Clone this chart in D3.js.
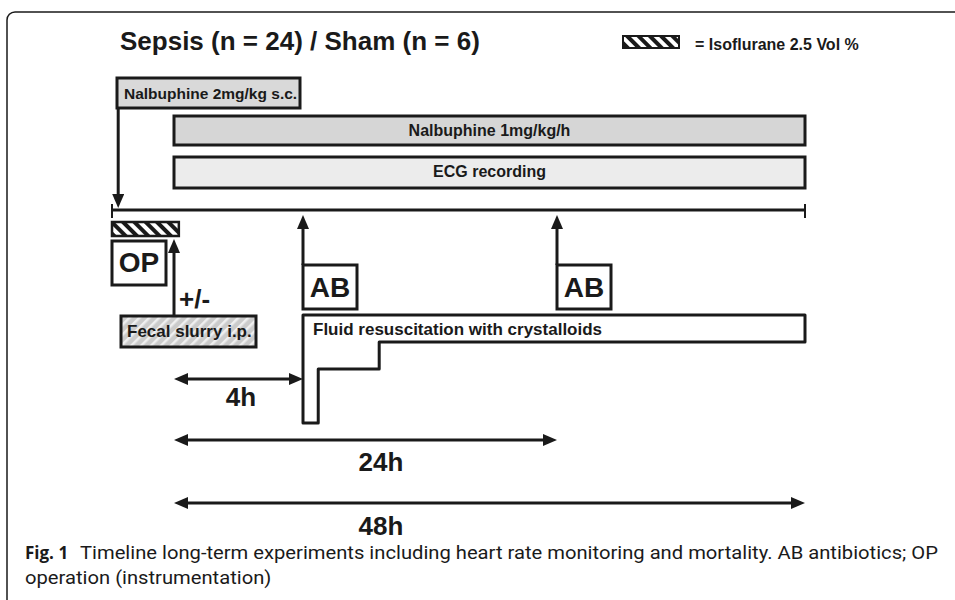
<!DOCTYPE html>
<html>
<head>
<meta charset="utf-8">
<script src="https://cdn.jsdelivr.net/npm/d3@7"></script>
<style>
  body { margin: 0; background: #fff; }
  text { font-family: "Liberation Sans", Arial, sans-serif; fill: #1a1a1a; }
</style>
</head>
<body>
<svg id="chart" width="955" height="600"></svg>
<script>
// ---- data (hours relative to fecal slurry injection) ----
var title = "Sepsis (n = 24) / Sham (n = 6)";
var legendLabel = "= Isoflurane 2.5 Vol %";

var bolusLabel = "Nalbuphine 2mg/kg s.c.";
var bolusHour = -1.8;

var infusionLabels = ["Nalbuphine 1mg/kg/h", "ECG recording"];
var infusionStart = [0, 0];
var infusionEnd = [48, 48];

var isofluraneHours = [-2, 0.15];
var antibioticHours = [4, 24];

var fluidLabel = "Fluid resuscitation with crystalloids";
var fluidHours = [4, 5.2, 10, 48];
var fluidRates = [4, 2, 1, 1];

var durationHours = [4, 24, 48];
var durationLabels = ["4h", "24h", "48h"];

var captionBold = "Fig. 1";
var captionLines = ["Timeline long-term experiments including heart rate monitoring and mortality. AB antibiotics; OP",
                    "operation (instrumentation)"];

// ---- layout ----
var ink = "#1a1a1a";
var L = {
    axisY: 210,
    bolusBox: [78, 108], bolusX: [117, 300],
    infusionY: [116, 157], infusionH: [29, 31],
    infusionFill: ["#d6d6d6", "#ececec"],
    isoY: 222, isoH: 14,
    opBox: [241, 285], opRight: 166,
    abBox: [265, 309], abW: 54,
    fecal: [316, 347], fecalX: [121, 256],
    fluidTop: 315,
    durationY: [379, 440, 503],
    durationLabelX: [241, 381, 381],
    durationLabelY: [406, 471, 535]
};

var svg = d3.select("#chart");

// piecewise time axis (schematic, not linear in time)
var x = d3.scaleLinear()
    .domain([-2, 0, 4, 24, 48])
    .range([112, 174, 303, 557, 805]);

var rateY = d3.scaleLinear()
    .domain([0, 4])
    .range([L.fluidTop, 423]);

var defs = svg.append("defs");

defs.append("marker")
    .attr("id", "head")
    .attr("viewBox", "0 0 14 12")
    .attr("refX", 8)
    .attr("refY", 6)
    .attr("markerWidth", 14)
    .attr("markerHeight", 12)
    .attr("markerUnits", "userSpaceOnUse")
    .attr("orient", "auto-start-reverse")
    .append("path")
    .attr("d", "M0,0L14,6L0,12Z")
    .attr("fill", ink);

var iso = defs.append("pattern")
    .attr("id", "iso")
    .attr("width", 8)
    .attr("height", 8)
    .attr("patternUnits", "userSpaceOnUse")
    .attr("patternTransform", "rotate(-45)");
iso.append("rect").attr("width", 8).attr("height", 8).attr("fill", "#fff");
iso.append("rect").attr("width", 4).attr("height", 8).attr("fill", ink);

var fecal = defs.append("pattern")
    .attr("id", "fecal")
    .attr("width", 7)
    .attr("height", 7)
    .attr("patternUnits", "userSpaceOnUse")
    .attr("patternTransform", "rotate(45)");
fecal.append("rect").attr("width", 7).attr("height", 7).attr("fill", "#cbcbcb");
fecal.append("rect").attr("width", 2.5).attr("height", 7).attr("fill", "#efefef");

// outer frame
svg.append("path")
    .attr("d", "M7,600V20A8,8 0 0 1 15,12H955")
    .attr("fill", "none")
    .attr("stroke", ink)
    .attr("stroke-width", 1.5);

// title and legend
svg.append("text")
    .attr("x", 120).attr("y", 50)
    .style("font-size", "26px").style("font-weight", "bold")
    .text(title);

svg.append("rect")
    .attr("x", 623).attr("y", 36).attr("width", 56).attr("height", 12)
    .attr("fill", "url(#iso)").attr("stroke", ink).attr("stroke-width", 2);

svg.append("text")
    .attr("x", 695).attr("y", 50)
    .style("font-size", "16px").style("font-weight", "bold")
    .text(legendLabel);

function arrow(x1, y1, x2, y2, both) {
    var ln = svg.append("line")
        .attr("x1", x1).attr("y1", y1).attr("x2", x2).attr("y2", y2)
        .attr("stroke", ink).attr("stroke-width", 3)
        .attr("marker-end", "url(#head)");
    if (both) ln.attr("marker-start", "url(#head)");
    return ln;
}

// nalbuphine bolus box + arrow down to the time axis
svg.append("rect")
    .attr("x", L.bolusX[0]).attr("y", L.bolusBox[0])
    .attr("width", L.bolusX[1] - L.bolusX[0]).attr("height", L.bolusBox[1] - L.bolusBox[0])
    .attr("fill", "#d9d9d9").attr("stroke", ink).attr("stroke-width", 3);
svg.append("text")
    .attr("x", L.bolusX[0] + 7).attr("y", 99)
    .style("font-size", "15.5px").style("font-weight", "bold")
    .text(bolusLabel);
arrow(x(bolusHour), L.bolusBox[1], x(bolusHour), L.axisY - 8);

// continuous infusion / recording bars
var bars = svg.selectAll(".bar")
    .data(infusionLabels)
    .enter().append("g")
    .attr("class", "bar");

bars.append("rect")
    .attr("x", function(d, i) { return x(infusionStart[i]); })
    .attr("y", function(d, i) { return L.infusionY[i]; })
    .attr("width", function(d, i) { return x(infusionEnd[i]) - x(infusionStart[i]); })
    .attr("height", function(d, i) { return L.infusionH[i]; })
    .attr("fill", function(d, i) { return L.infusionFill[i]; })
    .attr("stroke", ink).attr("stroke-width", 3);

bars.append("text")
    .attr("x", function(d, i) { return (x(infusionStart[i]) + x(infusionEnd[i])) / 2; })
    .attr("y", function(d, i) { return L.infusionY[i] + 20; })
    .style("text-anchor", "middle")
    .style("font-size", "16px").style("font-weight", "bold")
    .text(function(d) { return d; });

// time axis
svg.append("line")
    .attr("x1", x(-2)).attr("x2", x(48))
    .attr("y1", L.axisY).attr("y2", L.axisY)
    .attr("stroke", ink).attr("stroke-width", 3);
svg.selectAll(".cap")
    .data([-2, 48])
    .enter().append("line")
    .attr("class", "cap")
    .attr("x1", function(d) { return x(d); })
    .attr("x2", function(d) { return x(d); })
    .attr("y1", L.axisY - 6).attr("y2", L.axisY + 8)
    .attr("stroke", ink).attr("stroke-width", 2);

// isoflurane anaesthesia
svg.append("rect")
    .attr("x", x(isofluraneHours[0])).attr("y", L.isoY)
    .attr("width", x(isofluraneHours[1]) - x(isofluraneHours[0]))
    .attr("height", L.isoH)
    .attr("fill", "url(#iso)").attr("stroke", ink).attr("stroke-width", 2.5);

// OP box
svg.append("rect")
    .attr("x", x(-2)).attr("y", L.opBox[0])
    .attr("width", L.opRight - x(-2)).attr("height", L.opBox[1] - L.opBox[0])
    .attr("fill", "#fff").attr("stroke", ink).attr("stroke-width", 3);
svg.append("text")
    .attr("x", (x(-2) + L.opRight) / 2).attr("y", 272)
    .style("text-anchor", "middle")
    .style("font-size", "28px").style("font-weight", "bold")
    .text("OP");

// fecal slurry injection
svg.append("rect")
    .attr("x", L.fecalX[0]).attr("y", L.fecal[0])
    .attr("width", L.fecalX[1] - L.fecalX[0]).attr("height", L.fecal[1] - L.fecal[0])
    .attr("fill", "url(#fecal)").attr("stroke", ink).attr("stroke-width", 3);
svg.append("text")
    .attr("x", 127).attr("y", 337)
    .style("font-size", "17px").style("font-weight", "bold")
    .text("Fecal slurry i.p.");
arrow(x(0), L.fecal[0], x(0), L.isoY + L.isoH + 9);
svg.append("text")
    .attr("x", 179).attr("y", 308)
    .style("font-size", "26px").style("font-weight", "bold")
    .text("+/-");

// antibiotics
var ab = svg.selectAll(".ab")
    .data(antibioticHours)
    .enter().append("g")
    .attr("class", "ab");

ab.append("rect")
    .attr("x", function(d) { return x(d); })
    .attr("y", L.abBox[0])
    .attr("width", L.abW).attr("height", L.abBox[1] - L.abBox[0])
    .attr("fill", "#fff").attr("stroke", ink).attr("stroke-width", 3);
ab.append("text")
    .attr("x", function(d) { return x(d) + L.abW / 2; })
    .attr("y", 297)
    .style("text-anchor", "middle")
    .style("font-size", "28px").style("font-weight", "bold")
    .text("AB");
ab.each(function(d) {
    arrow(x(d), L.abBox[0], x(d), L.axisY + 11);
});

// fluid resuscitation profile
var fluid = fluidHours.map(function(h, i) { return { h: h, r: fluidRates[i] }; });
var area = d3.area()
    .curve(d3.curveStepAfter)
    .x(function(d) { return x(d.h); })
    .y0(L.fluidTop)
    .y1(function(d) { return rateY(d.r); });

svg.append("path")
    .datum(fluid)
    .attr("d", area)
    .attr("fill", "#fff")
    .attr("stroke", ink).attr("stroke-width", 3)
    .attr("stroke-linejoin", "round");
svg.append("text")
    .attr("x", x(4) + 10).attr("y", 335)
    .style("font-size", "17px").style("font-weight", "bold")
    .text(fluidLabel);

// duration arrows
var dur = svg.selectAll(".dur")
    .data(durationHours)
    .enter().append("g")
    .attr("class", "dur");

dur.append("line")
    .attr("x1", x(0) + 6)
    .attr("x2", function(d) { return x(d) - 6; })
    .attr("y1", function(d, i) { return L.durationY[i]; })
    .attr("y2", function(d, i) { return L.durationY[i]; })
    .attr("stroke", ink).attr("stroke-width", 3)
    .attr("marker-start", "url(#head)")
    .attr("marker-end", "url(#head)");

dur.append("text")
    .attr("x", function(d, i) { return L.durationLabelX[i]; })
    .attr("y", function(d, i) { return L.durationLabelY[i]; })
    .style("text-anchor", "middle")
    .style("font-size", "26px").style("font-weight", "bold")
    .text(function(d, i) { return durationLabels[i]; });

// caption (condensed look: squeeze both lines by the same factor)
var capFont = '"Liberation Sans Narrow", "Roboto", sans-serif';
svg.append("text")
    .attr("x", 25).attr("y", 559)
    .style("font-family", '"Open Sans", sans-serif')
    .style("font-size", "17px").style("font-weight", "bold")
    .text(captionBold);
var cap1 = svg.append("text")
    .attr("x", 80).attr("y", 559)
    .style("font-family", capFont)
    .style("font-size", "18px")
    .text(captionLines[0]);
var cap2 = svg.append("text")
    .attr("x", 25).attr("y", 584)
    .style("font-family", capFont)
    .style("font-size", "18px")
    .text(captionLines[1]);
var squeeze = 858 / cap1.node().getComputedTextLength();
cap1.attr("textLength", 858).attr("lengthAdjust", "spacingAndGlyphs");
cap2.attr("textLength", cap2.node().getComputedTextLength() * squeeze)
    .attr("lengthAdjust", "spacingAndGlyphs");
</script>
</body>
</html>
